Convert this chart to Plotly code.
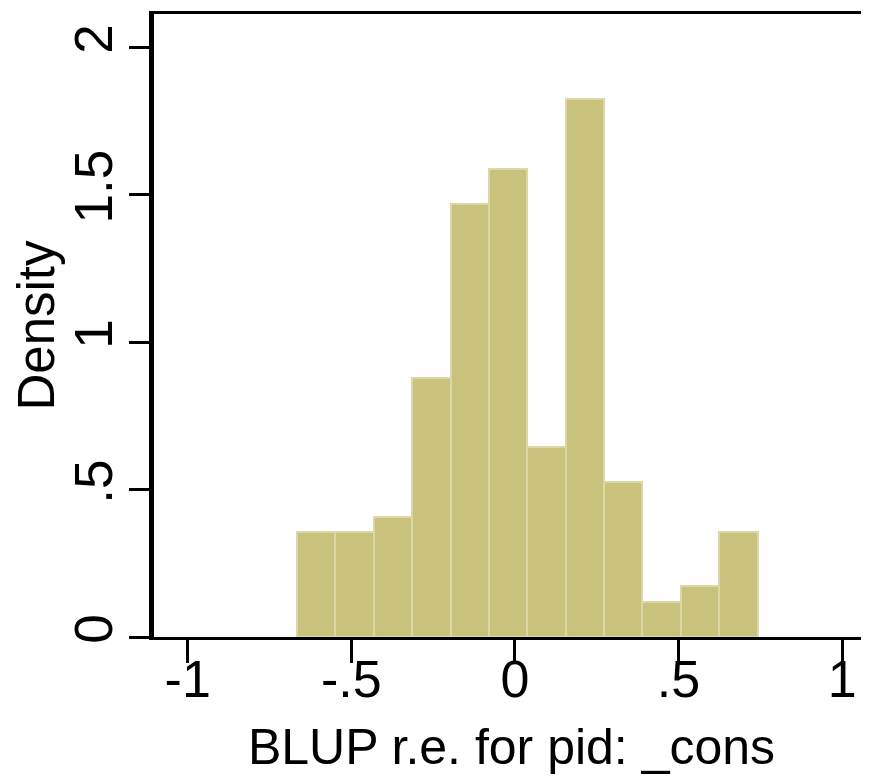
import plotly.graph_objects as go

# Data
bin_start = -0.666      # left edge of first bin
bin_width = 0.1173      # common bin width
density = [0.355, 0.355, 0.408, 0.879, 1.468, 1.586, 0.643, 1.823, 0.524, 0.118, 0.173, 0.355]

x_tickvals = [-1, -0.5, 0, 0.5, 1]
x_ticktext = ["-1", "-.5", "0", ".5", "1"]
y_tickvals = [0, 0.5, 1, 1.5, 2]
y_ticktext = ["0", ".5", "1", "1.5", "2"]

centers = [bin_start + bin_width * (i + 0.5) for i in range(len(density))]

FONT = "Liberation Sans, Arial, Helvetica, sans-serif"

fig = go.Figure()
fig.add_trace(go.Bar(
    x=centers,
    y=density,
    width=[bin_width] * len(density),
    marker=dict(color="#C9C27D", line=dict(color="#DBD7A6", width=2)),
    showlegend=False,
))

# page body has an 8px default margin, so the figure is 861x772
fig.update_layout(
    width=861, height=772,
    margin=dict(l=140, r=0, t=6, b=143),
    paper_bgcolor="white", plot_bgcolor="white",
    font=dict(family=FONT, size=52, color="black"),
    bargap=0,
)

fig.update_xaxes(
    range=[-1.103, 1.082],
    tickvals=x_tickvals, ticktext=x_ticktext,
    ticks="outside", ticklen=23, tickwidth=2.5, tickcolor="black",
    ticklabelstandoff=-28,
    tickfont=dict(size=52, family=FONT, color="black"),
    showline=True, linecolor="black", linewidth=3, mirror=True,
    showgrid=False, zeroline=False,
    title=dict(text="BLUP r.e. for pid: _cons", font=dict(size=50, family=FONT, color="black"), standoff=22),
)

fig.update_yaxes(
    range=[0, 2.112],
    tickvals=y_tickvals, ticktext=y_ticktext,
    ticks="outside", ticklen=20, tickwidth=2.5, tickcolor="black",
    tickangle=-90,
    ticklabelstandoff=-4,
    tickfont=dict(size=53, family=FONT, color="black"),
    showline=True, linecolor="black", linewidth=5, mirror=False,
    showgrid=False, zeroline=False,
    title=dict(text="Density", font=dict(size=51, family=FONT, color="black"), standoff=20),
)

fig.write_html("out.html")
